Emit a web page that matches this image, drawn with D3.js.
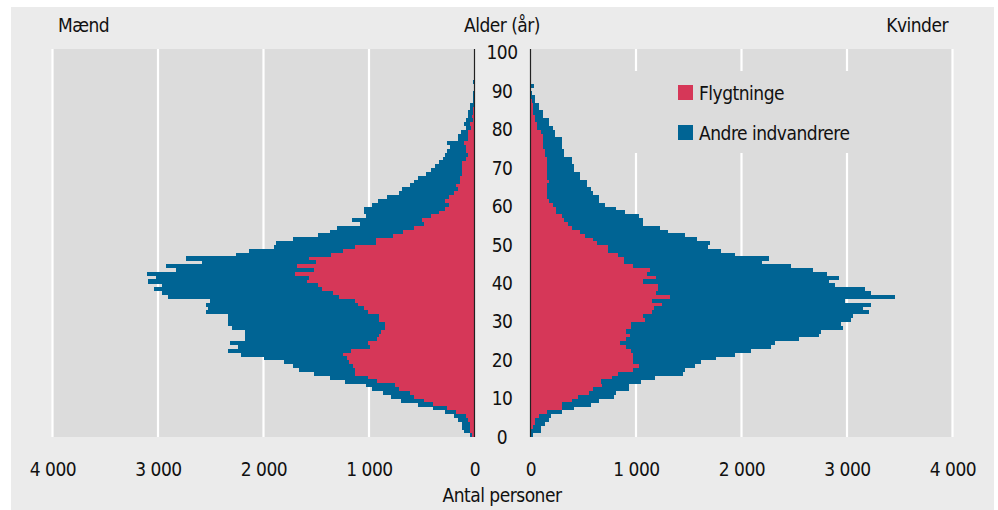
<!DOCTYPE html>
<html>
<head>
<meta charset="utf-8">
<script src="https://cdn.jsdelivr.net/npm/d3@7"></script>
<style>
  body { margin: 0; background: #fff; }
  svg text { font-family: "Liberation Sans Narrow", "DejaVu Sans Condensed", "Open Sans", sans-serif; fill: #111; letter-spacing: -0.5px; }
</style>
</head>
<body>
<svg id="pyramid" width="998" height="510"></svg>
<script>
// ages 0..100, one bar per year
const ages = d3.range(0, 101);

const maendFlygtninge = [
  19, 38, 38, 38, 66, 85, 180, 256, 389, 483,
  578, 616, 711, 749, 920, 1014, 1128, 1128, 1147, 1185,
  1204, 1242, 1166, 995, 1014, 920, 901, 882, 844, 844,
  901, 901, 1014, 1052, 1109, 1128, 1280, 1337, 1450, 1488,
  1583, 1564, 1697, 1526, 1678, 1507, 1564, 1356, 1242, 1128,
  938, 938, 768, 673, 578, 483, 502, 408, 332, 275,
  237, 275, 237, 199, 161, 180, 142, 142, 123, 123,
  123, 123, 85, 66, 85, 85, 104, 66, 66, 66,
  32, 44, 13, 25, 13, 10, 6, 3, 3, 0,
  0, 0, 0, 0, 0, 0, 0, 0, 0, 0, 0
];
const maendAndre = [
  19, 57, 76, 85, 86, 105, 95, 133, 142, 209,
  218, 256, 256, 275, 312, 351, 389, 540, 578, 616,
  787, 976, 1166, 1242, 1299, 1260, 1279, 1298, 1450, 1488,
  1431, 1431, 1527, 1470, 1432, 1375, 1621, 1621, 1584, 1470,
  1508, 1451, 1412, 1299, 1242, 1072, 1166, 900, 900, 768,
  939, 787, 711, 692, 730, 598, 655, 616, 711, 768,
  730, 635, 597, 521, 522, 427, 436, 389, 332, 294,
  256, 218, 218, 209, 180, 143, 161, 95, 86, 60,
  50, 51, 63, 32, 44, 28, 32, 7, 7, 10,
  0, 0, 10, 0, 0, 0, 0, 0, 0, 0, 0
];
const kvinderFlygtninge = [
  9, 9, 19, 38, 38, 85, 161, 294, 294, 389,
  446, 559, 597, 673, 664, 768, 825, 976, 1033, 976,
  976, 976, 957, 901, 844, 901, 939, 901, 957, 957,
  1090, 1071, 1147, 1166, 1242, 1147, 1318, 1185, 1204, 1204,
  1071, 1185, 1109, 1128, 976, 882, 882, 825, 730, 730,
  635, 597, 512, 465, 389, 351, 313, 294, 237, 237,
  218, 180, 152, 152, 152, 152, 180, 161, 152, 152,
  152, 161, 152, 142, 142, 114, 123, 123, 114, 104,
  66, 57, 47, 38, 28, 19, 28, 10, 5, 0,
  0, 0, 0, 0, 0, 0, 0, 0, 0, 0, 0
];
const kvinderAndre = [
  16, 86, 76, 95, 133, 105, 142, 123, 275, 256,
  350, 256, 332, 256, 379, 408, 616, 484, 522, 636,
  787, 958, 1129, 1374, 1469, 1640, 1791, 1848, 2001, 1982,
  1944, 1982, 2057, 1981, 1981, 1830, 2133, 2038, 1962, 1678,
  1754, 1735, 1697, 1545, 1489, 1317, 1374, 1109, 1071, 957,
  1065, 977, 948, 843, 843, 711, 749, 730, 654, 578,
  484, 465, 493, 436, 417, 379, 351, 304, 313, 256,
  256, 237, 246, 171, 171, 189, 180, 180, 114, 124,
  143, 114, 124, 76, 86, 57, 48, 28, 33, 10,
  0, 30, 0, 0, 0, 0, 0, 0, 0, 0, 0
];

const seriesNames = ["Flygtninge", "Andre indvandrere"];
const seriesColors = ["#d63758", "#006494"];
const xTicks = [0, 1000, 2000, 3000, 4000];
const ageTicks = [0, 10, 20, 30, 40, 50, 60, 70, 80, 90, 100];

const svg = d3.select("#pyramid");
const plotTop = 49, plotBottom = 437;
const leftZero = 474.5, leftEnd = 52.5;
const rightZero = 530.5, rightEnd = 952.5;
const fontSize = "19px";

// outer panel
svg.append("rect")
  .attr("x", 11).attr("y", 7)
  .attr("width", 983).attr("height", 503)
  .attr("fill", "#ebebeb");

const xL = d3.scaleLinear().domain([0, 4000]).range([leftZero, leftEnd]);
const xR = d3.scaleLinear().domain([0, 4000]).range([rightZero, rightEnd]);
const y = d3.scaleBand().domain(ages).range([plotBottom, plotTop]).padding(0);
const yAge = d3.scaleLinear().domain([0, 101]).range([plotBottom, plotTop]);

const stack = d3.stack().keys(["flygt", "andre"]);
const maendRows = ages.map((a, i) => ({ age: a, flygt: maendFlygtninge[i], andre: maendAndre[i] }));
const kvinderRows = ages.map((a, i) => ({ age: a, flygt: kvinderFlygtninge[i], andre: kvinderAndre[i] }));

function drawSide(x, rows) {
  const g = svg.append("g");
  const x0 = Math.min(x.range()[0], x.range()[1]);
  g.append("rect")
    .attr("x", x0).attr("y", plotTop)
    .attr("width", Math.abs(x.range()[1] - x.range()[0])).attr("height", plotBottom - plotTop)
    .attr("fill", "#dcdcdc");

  g.selectAll(".grid")
    .data(xTicks.slice(1))
    .enter().append("line")
    .attr("x1", d => x(d)).attr("x2", d => x(d))
    .attr("y1", plotTop).attr("y2", plotBottom)
    .attr("stroke", "#fff").attr("stroke-width", 2.2);

  const layers = stack(rows);
  g.selectAll(".layer")
    .data(layers)
    .enter().append("g")
    .attr("fill", (d, i) => seriesColors[i])
    .selectAll("rect")
    .data(d => d)
    .enter().append("rect")
    .attr("shape-rendering", "crispEdges")
    .attr("x", d => Math.min(x(d[0]), x(d[1])))
    .attr("width", d => Math.abs(x(d[1]) - x(d[0])))
    .attr("y", d => y(d.data.age))
    .attr("height", y.bandwidth() + 0.3);

  g.append("line")
    .attr("x1", x(0)).attr("x2", x(0))
    .attr("y1", plotTop).attr("y2", plotBottom)
    .attr("stroke", "#222").attr("stroke-width", 1.2);
  return g;
}

drawSide(xL, maendRows);
drawSide(xR, kvinderRows);

// legend box over right grid
const legend = svg.append("g").attr("transform", "translate(620,71)");
legend.append("rect").attr("width", 250).attr("height", 82).attr("fill", "#dcdcdc");
seriesNames.forEach((name, i) => {
  legend.append("rect")
    .attr("x", 58).attr("y", 14 + i * 40)
    .attr("width", 15).attr("height", 15)
    .attr("fill", seriesColors[i]);
  legend.append("text")
    .attr("x", 79).attr("y", 22 + i * 40)
    .attr("dy", "0.35em")
    .style("font-size", fontSize)
    .text(name);
});

// x axes
const locale = d3.formatLocale({ decimal: ",", thousands: " ", grouping: [3], currency: ["", " kr."] });
const fmt = locale.format(",d");

[xL, xR].forEach(x => {
  const ax = svg.append("g")
    .attr("transform", `translate(0,${plotBottom})`)
    .call(d3.axisBottom(x).tickValues(xTicks).tickFormat(fmt).tickSize(0).tickPadding(26));
  ax.select(".domain").remove();
  ax.selectAll("text").style("font-size", fontSize).attr("font-family", null).attr("fill", "#111");
});

// age axis in the middle
const ageAxis = svg.append("g")
  .attr("transform", "translate(502,0)")
  .call(d3.axisRight(yAge).tickValues(ageTicks).tickSize(0).tickPadding(0));
ageAxis.select(".domain").remove();
ageAxis.selectAll("text")
  .attr("x", 0)
  .attr("text-anchor", "middle")
  .style("font-size", fontSize)
  .attr("fill", "#111");

// titles
svg.append("text").attr("x", 58).attr("y", 32).style("font-size", fontSize).text("Mænd");
svg.append("text").attr("x", 502).attr("y", 32).attr("text-anchor", "middle").style("font-size", fontSize).text("Alder (år)");
svg.append("text").attr("x", 948).attr("y", 32).attr("text-anchor", "end").style("font-size", fontSize).text("Kvinder");
svg.append("text").attr("x", 502).attr("y", 502).attr("text-anchor", "middle").style("font-size", fontSize).text("Antal personer");
</script>
</body>
</html>
